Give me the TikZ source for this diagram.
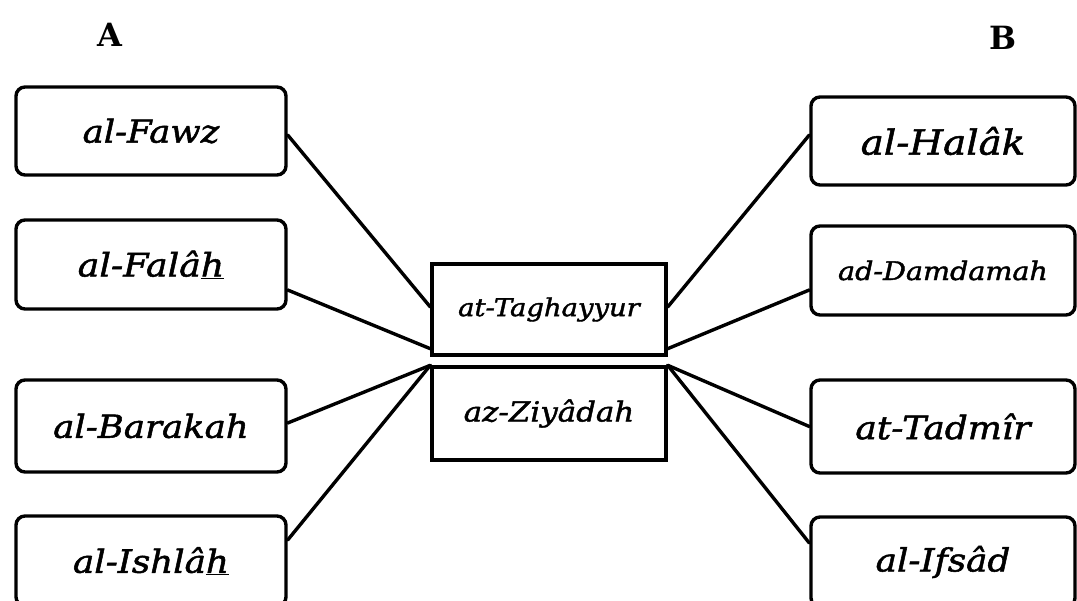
\documentclass[tikz,border=0pt]{standalone}
\usepackage{fontspec}
\setmainfont{DejaVu Serif}
\newfontfamily\lblfont{DejaVu Serif}[FakeStretch=1.12, FakeBold=1.6]
\usetikzlibrary{calc}
\tikzset{
  x=1pt, y=-1pt,
  edge/.style={line width=3.4pt, line cap=round},
  term/.style={draw, line width=3.4pt, rounded corners=9pt, inner sep=0pt,
    font=\lblfont\itshape},
  core/.style={draw, line width=3.4pt, inner sep=0pt, font=\lblfont\itshape},
  head/.style={font=\bfseries\fontsize{32}{36}\selectfont},
}
\newcommand{\fs}[1]{\fontsize{#1}{#1}\selectfont}
\begin{document}
\begin{tikzpicture}
\useasboundingbox (0,0) rectangle (1077,601);
\fill[white] (0,0) rectangle (1077,601);

% column headings
\node[head] (ha) at (110,35) {A};
\node[head] (hb) at (1003,38) {B};

% left column
\node[term, minimum width=270pt, minimum height=88pt] (fawz)    at (151,131)   {\fs{31.6}al-Fawz};
\node[term, minimum width=270pt, minimum height=89pt] (falah)   at (151,264.5) {\fs{32.4}al-Falâ\underline{h}};
\node[term, minimum width=270pt, minimum height=92pt] (barakah) at (151,426)   {\fs{31.7}al-Barakah};
\node[term, minimum width=270pt, minimum height=90pt] (ishlah)  at (151,561)   {\fs{31.9}al-Ishlâ\underline{h}};

% right column
\node[term, minimum width=264pt, minimum height=88pt] (halak)    at (943,141)   {\fs{34.6}al-Halâk};
\node[term, minimum width=264pt, minimum height=89pt] (damdamah) at (943,270.5) {\fs{25.5}ad-Damdamah};
\node[term, minimum width=264pt, minimum height=93pt] (tadmir)   at (943,426.5) {\fs{32.1}at-Tadmîr};
\node[term, minimum width=264pt, minimum height=90pt] (ifsad)    at (943,562)   {\fs{31.9}al-Ifsâd};

% centre pair
\node[core, minimum width=234pt, minimum height=91pt] (tagh) at (549,309.5) {\fs{24.5}at-Taghayyur};
\node[core, minimum width=234pt, minimum height=93pt] (ziy)  at (549,413.5) {\fs{27.6}az-Ziyâdah};

% connectors
\draw[edge] ([yshift=-4pt]fawz.east)    -- ([yshift=2.5pt]tagh.west);
\draw[edge] ([yshift=-25.5pt]falah.east) -- ([yshift=8pt]tagh.south west);
\draw[edge] ([yshift=3pt]barakah.east)  -- (ziy.north west);
\draw[edge] ([yshift=21pt]ishlah.east)  -- (ziy.north west);

\draw[edge] ([yshift=6pt]halak.west)      -- ([yshift=2.5pt]tagh.east);
\draw[edge] ([yshift=-19.5pt]damdamah.west) -- ([yshift=8pt]tagh.south east);
\draw[edge] (tadmir.west)                 -- (ziy.north east);
\draw[edge] ([yshift=19pt]ifsad.west)     -- (ziy.north east);
\end{tikzpicture}
\end{document}
